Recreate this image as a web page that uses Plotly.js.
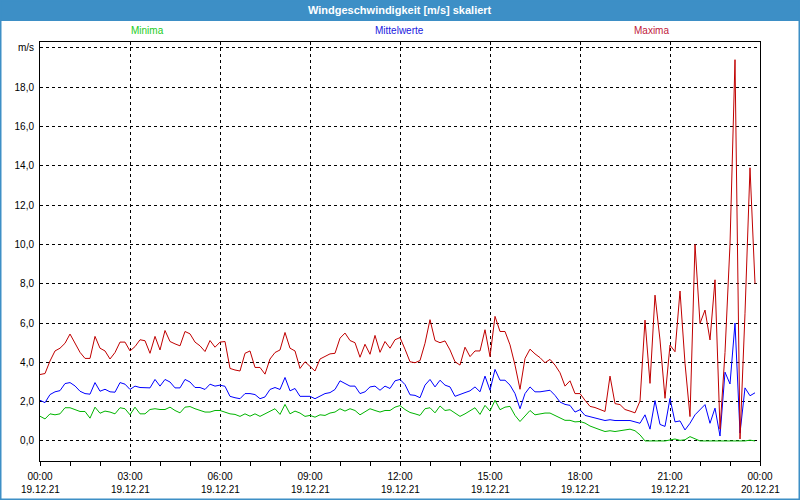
<!DOCTYPE html>
<html>
<head>
<meta charset="utf-8">
<script src="https://cdn.plot.ly/plotly-3.0.1.min.js"></script>
<style>html,body{margin:0;padding:0;background:#fff;}#chart{width:800px;height:500px;}</style>
</head>
<body>
<div id="chart"></div>
<script>
// ---- data (10-minute values, 19.12.21 00:00 .. 23:50) ----
var startTime = '2021-12-19T00:00:00';
var stepMinutes = 10;

var maxima = [3.38,3.43,4.07,4.58,4.72,4.97,5.44,4.97,4.51,4.2,4.2,5.32,4.72,4.58,4.17,4.5,5.03,5.03,4.58,4.8,
5.15,5.1,4.46,5.32,4.63,5.62,5.06,4.94,4.84,5.57,5.45,5.03,4.84,4.55,5.11,4.77,5.03,5.06,3.69,3.61,
3.56,4.46,4.58,3.74,3.74,3.4,4.17,4.5,4.63,5.52,4.72,4.58,3.69,4.03,3.78,3.56,4.17,4.32,4.43,4.46,
5.23,5.49,5.11,5.0,4.26,4.92,4.41,5.37,4.51,5.06,4.72,5.15,5.26,4.67,4.03,3.98,4.09,4.97,6.17,5.11,
5.0,5.09,4.63,4.03,3.86,4.77,4.29,4.58,4.58,5.66,4.29,6.34,5.57,5.57,4.89,3.86,2.63,4.2,4.67,4.43,
4.24,3.98,4.15,3.86,3.47,2.79,3.06,2.41,2.41,2.07,1.76,1.7,1.6,1.5,3.3,1.9,1.85,1.6,1.52,1.43,
2.03,6.15,2.93,7.42,5.14,2.17,4.88,4.54,7.63,3.95,1.24,10.0,5.98,6.66,5.14,8.2,0.6,4.5,10.0,19.4,
0.1,6.5,13.9,8.0];

var mittelwerte = [2.07,1.95,2.36,2.5,2.56,2.92,2.97,2.8,2.53,2.41,2.38,2.97,2.53,2.63,2.5,2.48,2.97,2.89,2.62,2.79,
2.72,2.7,2.7,3.13,2.79,3.13,3.0,2.7,2.7,3.13,3.0,2.72,2.72,2.62,2.89,2.79,2.84,2.78,2.27,2.2,
2.15,2.41,2.41,2.36,2.15,2.24,2.62,2.72,2.62,3.23,2.55,2.67,2.27,2.27,2.27,2.15,2.27,2.41,2.46,2.62,
3.06,2.92,2.79,2.79,2.41,2.5,2.75,2.79,2.58,2.79,2.67,3.06,3.13,2.87,2.35,2.32,2.2,2.84,3.13,2.75,
3.09,2.84,2.75,2.27,2.38,2.46,2.55,2.75,2.5,3.3,2.58,3.64,3.09,3.09,2.84,2.41,1.64,2.41,2.75,2.5,
2.5,2.55,2.58,2.32,1.98,1.86,1.81,1.47,1.59,1.3,1.23,1.16,1.08,1.04,1.08,1.04,1.04,1.04,1.04,0.97,
0.9,1.33,0.6,2.05,0.84,0.74,2.16,0.97,1.02,0.56,0.9,1.33,1.59,1.85,0.9,1.67,0.25,3.5,2.9,6.0,
0.4,2.7,2.3,2.45];

var minima = [1.26,1.12,1.38,1.33,1.38,1.69,1.69,1.6,1.5,1.5,1.16,1.72,1.41,1.52,1.47,1.38,1.69,1.64,1.33,1.72,
1.38,1.38,1.6,1.64,1.6,1.6,1.72,1.55,1.43,1.72,1.75,1.64,1.55,1.47,1.47,1.55,1.55,1.48,1.38,1.35,
1.25,1.38,1.26,1.38,1.25,1.38,1.52,1.64,1.35,1.86,1.38,1.52,1.42,1.25,1.3,1.21,1.33,1.3,1.42,1.47,
1.64,1.52,1.64,1.55,1.33,1.47,1.64,1.55,1.47,1.55,1.55,1.72,1.8,1.6,1.45,1.38,1.3,1.64,1.69,1.43,
1.78,1.55,1.59,1.42,1.25,1.38,1.55,1.69,1.35,1.81,1.52,2.07,1.59,1.72,1.76,1.3,0.99,1.3,1.55,1.33,
1.38,1.42,1.42,1.3,1.18,1.05,1.05,0.97,0.99,0.91,0.76,0.65,0.57,0.48,0.52,0.48,0.52,0.57,0.6,0.52,
0.31,0.0,0.0,0.03,0.03,0.0,0.05,0.1,0.03,0.06,0.22,0.1,0.0,0.0,0.0,0.0,0.0,0.0,0.0,0.0,
0.0,0.0,0.04,0.0];

var tickTimes = ['2021-12-19 00:00','2021-12-19 03:00','2021-12-19 06:00','2021-12-19 09:00','2021-12-19 12:00',
                 '2021-12-19 15:00','2021-12-19 18:00','2021-12-19 21:00','2021-12-20 00:00'];
var tickHours = ['00:00','03:00','06:00','09:00','12:00','15:00','18:00','21:00','00:00'];
var tickDates = ['19.12.21','19.12.21','19.12.21','19.12.21','19.12.21','19.12.21','19.12.21','19.12.21','20.12.21'];

var yTickVals = [0,2,4,6,8,10,12,14,16,18,20];
var yTickText = ['0,0','2,0','4,0','6,0','8,0','10,0','12,0','14,0','16,0','18,0','m/s'];

var seriesNames = ['Minima','Mittelwerte','Maxima'];
var seriesColors = ['#00b400','#0000ff','#c00000'];
var labelColors = ['#22cc22','#2020e0','#c0203c'];

// ---- build time axis values ----
function pad(n){return (n<10?'0':'')+n;}
var times = [];
var t0 = new Date(startTime+'Z').getTime();
for (var i = 0; i < maxima.length; i++) {
  var d = new Date(t0 + i*stepMinutes*60000);
  times.push(d.getUTCFullYear()+'-'+pad(d.getUTCMonth()+1)+'-'+pad(d.getUTCDate())+' '+pad(d.getUTCHours())+':'+pad(d.getUTCMinutes()));
}

var data = [minima, mittelwerte, maxima];
var traces = [];
for (var s = 0; s < 3; s++) {
  traces.push({x: times, y: data[s], type: 'scatter', mode: 'lines', name: seriesNames[s],
    line: {color: seriesColors[s], width: 1}, hoverinfo: 'skip'});
}

// pixel helpers for layout positions (plot area 40..760 x 42..461)
function px2paperX(px){return (px-40)/720;}
function px2paperY(py){return (461-py)/419;}

var annotations = [];
var labelX = [147, 399, 651];
for (var s = 0; s < 3; s++) {
  annotations.push({xref:'paper', yref:'paper', x: px2paperX(labelX[s]), y: px2paperY(30),
    xanchor:'center', yanchor:'middle', showarrow:false, text: seriesNames[s],
    font:{size:10, color: labelColors[s]}});
}
for (var k = 0; k < tickTimes.length; k++) {
  annotations.push({xref:'x', yref:'paper', x: tickTimes[k], y: px2paperY(489),
    xanchor:'center', yanchor:'middle', showarrow:false, text: tickDates[k],
    font:{size:10, color:'#000'}});
}
annotations.push({xref:'paper', yref:'paper', x: 0.5, y: px2paperY(10), xanchor:'center', yanchor:'middle',
  showarrow:false, text:'<b>Windgeschwindigkeit [m/s] skaliert</b>', font:{size:11, color:'#ffffff'}});

var shapes = [
  {type:'rect', xref:'paper', yref:'paper', layer:'below',
   x0: px2paperX(-2), x1: px2paperX(802), y0: px2paperY(21), y1: px2paperY(-2),
   fillcolor:'#3d8fc6', line:{width:0}},
  {type:'rect', xref:'paper', yref:'paper', layer:'below',
   x0: px2paperX(0), x1: px2paperX(800), y0: px2paperY(500), y1: px2paperY(0),
   fillcolor:'rgba(0,0,0,0)', line:{color:'#3d8fc6', width:3}}
];

var layout = {
  width: 800, height: 500,
  margin: {l:40, r:40, t:42, b:39, pad:0},
  paper_bgcolor: '#ffffff', plot_bgcolor: '#ffffff',
  showlegend: false,
  font: {family: 'Liberation Sans, Arial, sans-serif', size: 10, color: '#000'},
  xaxis: {
    type: 'date', range: ['2021-12-19 00:00', '2021-12-20 00:00'],
    showline: true, mirror: true, linecolor: '#000', linewidth: 1,
    showgrid: true, gridcolor: '#000', gridwidth: 1, griddash: '3px,3px',
    zeroline: false,
    tickmode: 'array', tickvals: tickTimes, ticktext: tickHours,
    ticks: 'outside', ticklen: 4, tickcolor: '#000', tickwidth: 1,
    ticklabelstandoff: 2,
    minor: {dtick: 3600000, tick0: '2021-12-19 00:00', ticks: 'outside', ticklen: 4, tickcolor: '#000', showgrid: false},
    fixedrange: true
  },
  yaxis: {
    range: [-1.02, 20.3],
    showline: true, mirror: true, linecolor: '#000', linewidth: 1,
    showgrid: true, gridcolor: '#000', gridwidth: 1, griddash: '3px,3px',
    zeroline: false,
    tickmode: 'array', tickvals: yTickVals, ticktext: yTickText,
    ticks: '', ticklabelstandoff: 3,
    fixedrange: true
  },
  annotations: annotations,
  shapes: shapes
};

Plotly.newPlot('chart', traces, layout, {displayModeBar: false, staticPlot: true});
</script>
</body>
</html>
